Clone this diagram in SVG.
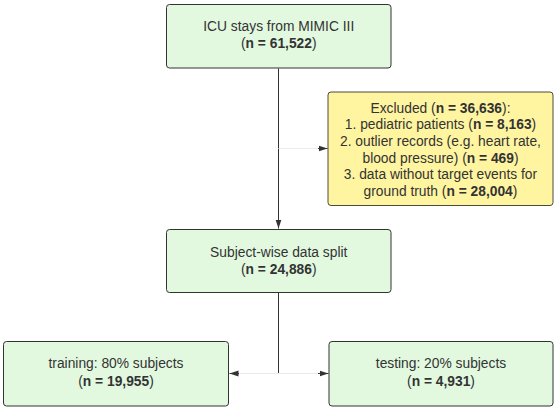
<svg xmlns="http://www.w3.org/2000/svg" width="556" height="412" viewBox="0 0 556 412">
<style>
.box{fill:#e2f9e0;stroke:#333;stroke-width:1}
.ybox{fill:#fff5a1;stroke:#4a4a3a;stroke-width:1}
text{font-family:"Liberation Sans",Arial,sans-serif;font-size:13.8px;fill:#333;text-anchor:middle}
.b{font-weight:bold}
.line{stroke:#333;stroke-width:1;fill:none}
.faint{stroke:#ececec;stroke-width:1;fill:none}
</style>
<defs>
<marker id="arr" markerWidth="10" markerHeight="8" refX="9" refY="4" orient="auto" markerUnits="userSpaceOnUse">
<path d="M0,1 L9,4 L0,7 Z" fill="#333"/>
</marker>
</defs>
<g id="connectors">
<path class="line" d="M278.5,68.5 V228.5" marker-end="url(#arr)"/>
<path class="faint" d="M278.5,148.5 H320"/>
<path class="line" d="M318,148.5 H327.5" marker-end="url(#arr)"/>
<path class="line" d="M278.5,292.5 V373.5"/>
<path class="faint" d="M238,373.5 H320"/>
<path class="line" d="M318,373.5 H328.5" marker-end="url(#arr)"/>
<path class="line" d="M239,373.5 H229.5" marker-end="url(#arr)"/>
</g>
<g id="n_icu">
<rect class="box" x="166.5" y="4.5" width="224.5" height="63.5" rx="3"/>
<text x="278.75" y="31">ICU stays from MIMIC III</text>
<text x="278.75" y="48">(<tspan class="b">n = 61,522</tspan>)</text>
</g>
<g id="n_excluded">
<rect class="ybox" x="328" y="92" width="225" height="113.5" rx="3"/>
<text x="440.5" y="112.7">Excluded (<tspan class="b">n = 36,636</tspan>):</text>
<text x="440.5" y="129.3">1. pediatric patients (<tspan class="b">n = 8,163</tspan>)</text>
<text x="440.5" y="145.9">2. outlier records (e.g. heart rate,</text>
<text x="440.5" y="162.5">blood pressure) (<tspan class="b">n = 469</tspan>)</text>
<text x="440.5" y="179.1">3. data without target events for</text>
<text x="440.5" y="195.7">ground truth (<tspan class="b">n = 28,004</tspan>)</text>
</g>
<g id="n_split">
<rect class="box" x="166.5" y="229.5" width="224.5" height="63" rx="3"/>
<text x="278.75" y="256.5">Subject-wise data split</text>
<text x="278.75" y="273.5">(<tspan class="b">n = 24,886</tspan>)</text>
</g>
<g id="n_training">
<rect class="box" x="3.5" y="341.5" width="225" height="64.5" rx="3"/>
<text x="116" y="368">training: 80% subjects</text>
<text x="116" y="385.5">(<tspan class="b">n = 19,955</tspan>)</text>
</g>
<g id="n_testing">
<rect class="box" x="329" y="341.5" width="224" height="64.5" rx="3"/>
<text x="441" y="368">testing: 20% subjects</text>
<text x="441" y="385.5">(<tspan class="b">n = 4,931</tspan>)</text>
</g>
</svg>
